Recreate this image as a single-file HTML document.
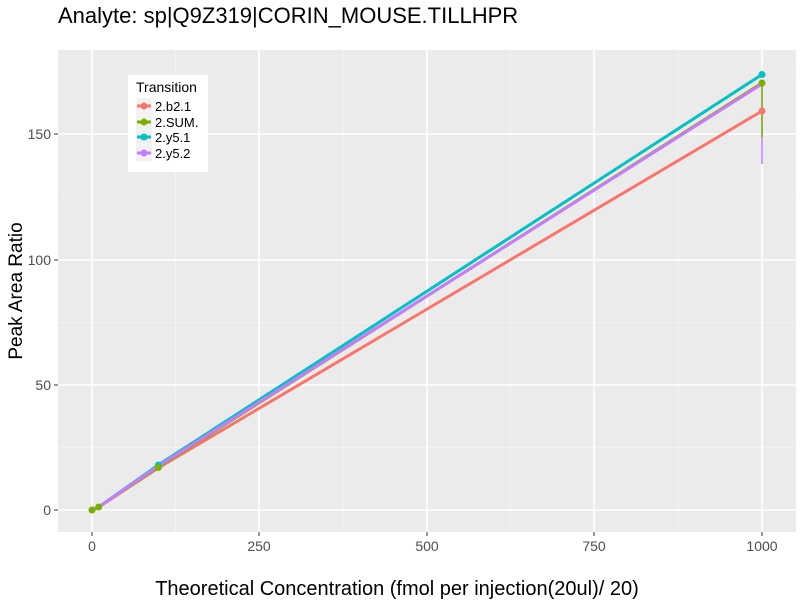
<!DOCTYPE html>
<html><head><meta charset="utf-8"><style>
body{margin:0;background:#fff;}
svg text{font-family:"Liberation Sans",sans-serif;}
</style></head><body>
<svg width="800" height="600" xmlns="http://www.w3.org/2000/svg">
<rect width="800" height="600" fill="#fff"/>
<text x="58" y="23" font-size="22" fill="#000">Analyte: sp|Q9Z319|CORIN_MOUSE.TILLHPR</text>
<rect x="58" y="50" width="738" height="482" fill="#ebebeb"/>
<g stroke="#f5f5f5" stroke-width="0.8">
<line x1="175.5" y1="50" x2="175.5" y2="532"/><line x1="343" y1="50" x2="343" y2="532"/>
<line x1="510.5" y1="50" x2="510.5" y2="532"/><line x1="678" y1="50" x2="678" y2="532"/>
<line x1="58" y1="447.5" x2="796" y2="447.5"/><line x1="58" y1="322.5" x2="796" y2="322.5"/>
<line x1="58" y1="197" x2="796" y2="197"/><line x1="58" y1="72" x2="796" y2="72"/>
</g>
<g stroke="#fff" stroke-width="1.6">
<line x1="92" y1="50" x2="92" y2="532"/><line x1="259" y1="50" x2="259" y2="532"/>
<line x1="427" y1="50" x2="427" y2="532"/><line x1="594" y1="50" x2="594" y2="532"/>
<line x1="762" y1="50" x2="762" y2="532"/>
<line x1="58" y1="510" x2="796" y2="510"/><line x1="58" y1="385" x2="796" y2="385"/>
<line x1="58" y1="260" x2="796" y2="260"/><line x1="58" y1="134" x2="796" y2="134"/>
</g>
<line x1="762" y1="84" x2="762" y2="164" stroke="#c77cff" stroke-width="1.5"/>
<line x1="762" y1="83" x2="762" y2="137" stroke="#7cae00" stroke-width="1.5"/>
<polyline points="92,510 98.7,507 158.3,468 762,111" fill="none" stroke="#f8766d" stroke-width="3"/>
<polyline points="92,510 98.7,507 158.3,467 762,83" fill="none" stroke="#7cae00" stroke-width="3"/>
<polyline points="92,510 98.7,507 158.3,465 762,74.5" fill="none" stroke="#00bfc4" stroke-width="3"/>
<polyline points="92,510 98.7,507 158.3,466 762,84" fill="none" stroke="#c77cff" stroke-width="3"/>
<g>
<circle cx="762" cy="111" r="3.5" fill="#f8766d"/>
<circle cx="762" cy="74.5" r="3.5" fill="#00bfc4"/>
<circle cx="762" cy="83" r="3.5" fill="#7cae00"/>
<circle cx="158.3" cy="465" r="3.5" fill="#00bfc4"/>
<circle cx="158.3" cy="467.5" r="3.5" fill="#7cae00"/>
<circle cx="92" cy="510" r="3.5" fill="#7cae00"/>
<circle cx="98.7" cy="507" r="3.5" fill="#7cae00"/>
</g>
<g font-size="14" fill="#4d4d4d" text-anchor="end">
<text x="51" y="515">0</text><text x="51" y="390">50</text><text x="51" y="265">100</text><text x="51" y="139">150</text>
</g>
<g stroke="#333" stroke-width="1">
<line x1="54" y1="510" x2="58" y2="510"/><line x1="54" y1="385" x2="58" y2="385"/>
<line x1="54" y1="260" x2="58" y2="260"/><line x1="54" y1="134" x2="58" y2="134"/>
<line x1="92" y1="532" x2="92" y2="536"/><line x1="259" y1="532" x2="259" y2="536"/>
<line x1="427" y1="532" x2="427" y2="536"/><line x1="594" y1="532" x2="594" y2="536"/>
<line x1="762" y1="532" x2="762" y2="536"/>
</g>
<g font-size="14" fill="#4d4d4d" text-anchor="middle">
<text x="92" y="551">0</text><text x="259" y="551">250</text><text x="427" y="551">500</text><text x="594" y="551">750</text><text x="762" y="551">1000</text>
</g>
<text x="397" y="595" font-size="20" text-anchor="middle" fill="#000">Theoretical Concentration (fmol per injection(20ul)/ 20)</text>
<text transform="translate(22,291) rotate(-90)" font-size="19" text-anchor="middle" fill="#000">Peak Area Ratio</text>
<rect x="128" y="75" width="80" height="97" fill="#fff"/>
<text x="136" y="92" font-size="14" fill="#000">Transition</text>
<g font-size="13" fill="#000">
<rect x="136" y="98" width="16" height="16" fill="#f2f2f2"/><line x1="137" y1="106" x2="151" y2="106" stroke="#f8766d" stroke-width="3"/><circle cx="144" cy="106" r="3.5" fill="#f8766d"/><text x="155" y="111">2.b2.1</text>
<rect x="136" y="114" width="16" height="16" fill="#f2f2f2"/><line x1="137" y1="122" x2="151" y2="122" stroke="#7cae00" stroke-width="3"/><circle cx="144" cy="122" r="3.5" fill="#7cae00"/><text x="155" y="127">2.SUM.</text>
<rect x="136" y="130" width="16" height="16" fill="#f2f2f2"/><line x1="137" y1="137" x2="151" y2="137" stroke="#00bfc4" stroke-width="3"/><circle cx="144" cy="137" r="3.5" fill="#00bfc4"/><text x="155" y="142">2.y5.1</text>
<rect x="136" y="145" width="16" height="16" fill="#f2f2f2"/><line x1="137" y1="153" x2="151" y2="153" stroke="#c77cff" stroke-width="3"/><circle cx="144" cy="153" r="3.5" fill="#c77cff"/><text x="155" y="158">2.y5.2</text>
</g>
</svg>
</body></html>
